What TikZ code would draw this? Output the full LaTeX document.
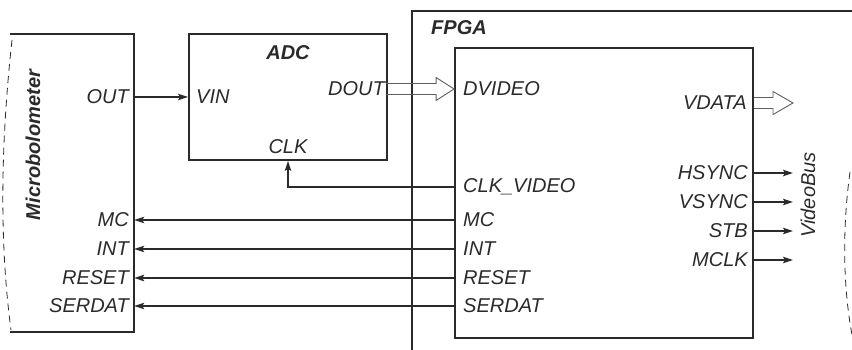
\documentclass[tikz,border=0pt]{standalone}
\usepackage{fontspec}
\setmainfont{Liberation Sans}
\usetikzlibrary{arrows.meta,calc}
\definecolor{ink}{HTML}{2A2A2A}
\newcommand\hollowarrow[3]{%
  \draw[bus] let \p1=(#1), \p2=(#2) in
    (\x1,{\y1+5.5pt}) -- ({\x2-#3},{\y1+5.5pt}) -- ({\x2-#3},{\y1+11.5pt}) --
    (\x2,\y1) -- ({\x2-#3},{\y1-11.5pt}) -- ({\x2-#3},{\y1-5.5pt}) -- (\x1,{\y1-5.5pt});}
\begin{document}
\begin{tikzpicture}[x=1pt,y=-1pt,
  lbl/.style={font=\fontsize{20}{22}\selectfont\itshape, text=ink, inner sep=0pt},
  ttl/.style={font=\fontsize{20}{22}\selectfont\bfseries\itshape, text=ink, inner sep=0pt},
  box/.style={draw=ink, line width=1.9pt, inner sep=0pt},
  sig/.style={draw=ink, line width=1.3pt, -{Stealth[length=10pt,width=6.5pt,inset=2pt]}},
  bus/.style={draw=ink!75, line width=0.9pt},
  edge/.style={draw=ink, line width=0.8pt, dash pattern=on 7pt off 5pt}]
\useasboundingbox (0,0) rectangle (852,350);

% Microbolometer
\node[inner sep=0pt, minimum width=124pt, minimum height=298pt] (mb) at (72,183) {};
\draw[box] (mb.north west) -- (mb.north east) -- (mb.south east) -- (mb.south west);
\draw[edge] (12,40) .. controls (1,140) and (-1,240) .. (11,330);
\node[ttl, rotate=90] (mbt) at (33,145) {Microbolometer};
\node[lbl, anchor=east] (out) at (129,97) {OUT};
\node[lbl, anchor=east] (mbmc) at (129,220) {MC};
\node[lbl, anchor=east] (mbint) at (129,249) {INT};
\node[lbl, anchor=east] (mbrst) at (129,278) {RESET};
\node[lbl, anchor=east] (mbser) at (129,306) {SERDAT};

% ADC
\node[box, minimum width=198pt, minimum height=126pt] (adc) at (288,97) {};
\node[ttl] (adct) at (288,53) {ADC};
\node[lbl, anchor=west] (vin) at (196,97) {VIN};
\node[lbl, anchor=east] (dout) at (385,89) {DOUT};
\node[lbl] (clk) at (288,147) {CLK};

% FPGA outer
\coordinate (fo1) at (412,352);
\coordinate (fo2) at (412,11);
\coordinate (fo3) at (854,11);
\draw[box] (fo1) -- (fo2) -- (fo3);
\node[ttl, anchor=west] (fpgat) at (431,28) {FPGA};

% FPGA inner block
\node[box, minimum width=298pt, minimum height=290pt] (fp) at (604,193) {};
\node[lbl, anchor=west] (dvideo) at (463,89) {DVIDEO};
\node[lbl, anchor=west] (clkv) at (463,187) {CLK\_VIDEO};
\node[lbl, anchor=west] (fpmc) at (463,220) {MC};
\node[lbl, anchor=west] (fpint) at (463,249) {INT};
\node[lbl, anchor=west] (fprst) at (463,278) {RESET};
\node[lbl, anchor=west] (fpser) at (463,306) {SERDAT};
\node[lbl, anchor=east] (vdata) at (747,103) {VDATA};
\node[lbl, anchor=east] (hs) at (748,173) {HSYNC};
\node[lbl, anchor=east] (vs) at (748,202) {VSYNC};
\node[lbl, anchor=east] (stb) at (748,231) {STB};
\node[lbl, anchor=east] (mclk) at (748,260) {MCLK};

\node[lbl, rotate=90] (vbus) at (808,195) {VideoBus};
\draw[edge] (850,172) .. controls (842,230) and (843,290) .. (853,340);

% connectors
\draw[sig] (mb.east |- out) -- (adc.west |- out);
\hollowarrow{$(adc.east |- dout)+(-2,0)$}{fp.west |- dout}{18pt}
\draw[sig] (fp.west |- clkv) -| (adc.south -| clk);
\draw[sig] (fp.west |- fpmc) -- (mb.east |- fpmc);
\draw[sig] (fp.west |- fpint) -- (mb.east |- fpint);
\draw[sig, line width=1.6pt] (fp.west |- fprst) -- (mb.east |- fprst);
\draw[sig] (fp.west |- fpser) -- (mb.east |- fpser);

\coordinate (vdE) at (793,103);
\hollowarrow{fp.east |- vdata}{vdE}{20pt}
\coordinate (hsE) at (793,173);
\coordinate (vsE) at (793,202);
\coordinate (stbE) at (793,231);
\coordinate (mclkE) at (793,260);
\draw[sig, line width=1.8pt] (fp.east |- hs) -- (hsE);
\draw[sig] (fp.east |- vs) -- (vsE);
\draw[sig] (fp.east |- stb) -- (stbE);
\draw[sig] (fp.east |- mclk) -- (mclkE);
\end{tikzpicture}
\end{document}
